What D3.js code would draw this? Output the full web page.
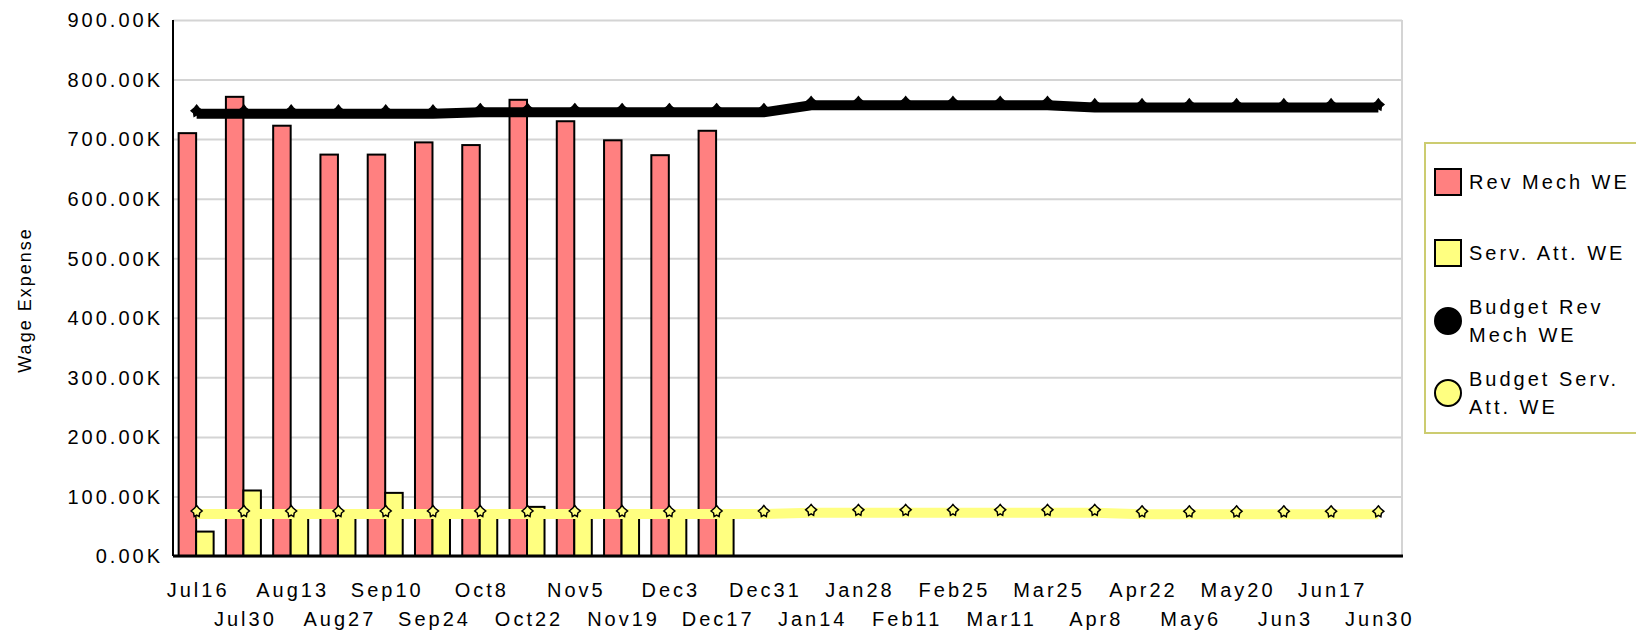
<!DOCTYPE html>
<html>
<head>
<meta charset="utf-8">
<script src="https://cdn.jsdelivr.net/npm/d3@7"></script>
<style>
  body { margin: 0; background: #fff; }
  text { font-family: "Liberation Sans", Arial, sans-serif; fill: #000; }
</style>
</head>
<body>
<div id="chart-div"></div>
<script>
// Pay periods (bi-weekly)
const periods = ["Jul16", "Jul30", "Aug13", "Aug27", "Sep10", "Sep24", "Oct8", "Oct22",
  "Nov5", "Nov19", "Dec3", "Dec17", "Dec31", "Jan14", "Jan28", "Feb11", "Feb25",
  "Mar11", "Mar25", "Apr8", "Apr22", "May6", "May20", "Jun3", "Jun17", "Jun30"];

// values in thousands
const revMechWE = [710, 771, 722.5, 674, 674, 694.5, 690, 766, 730, 698, 673, 714];
const servAttWE = [41, 110, 72, 70, 106, 71, 72, 82.5, 71, 70, 72, 71];
const budgetRevMechWE = [747.5, 747.5, 747.5, 747.5, 747.5, 747.5, 750, 750, 750, 750, 750,
  750, 750, 762, 762, 762, 762, 762, 762, 758, 758, 758, 758, 758, 758, 758];
const budgetServAttWE = [75.5, 75.5, 75.5, 75.5, 75.5, 75.5, 75.5, 75.5, 75.5, 75.5, 75.5,
  75.5, 75.5, 77.5, 77.5, 77.5, 77.5, 77.5, 77.5, 77.5, 75, 75, 75, 75, 75, 75];

const yTicks = [0, 100, 200, 300, 400, 500, 600, 700, 800, 900];

const legendItems = [
  { lines: ["Rev Mech WE"], type: "rect", color: "#ff8080" },
  { lines: ["Serv. Att. WE"], type: "rect", color: "#ffff80" },
  { lines: ["Budget Rev", "Mech WE"], type: "circle", color: "#000000" },
  { lines: ["Budget Serv.", "Att. WE"], type: "circle", color: "#ffff80" }
];

const SVG_W = 1636;
const SVG_H = 633;
const MARGIN = { left: 173, top: 20, right: 234, bottom: 77 };
const W = SVG_W - MARGIN.left - MARGIN.right;
const H = SVG_H - MARGIN.top - MARGIN.bottom;
const FONT = "20px";
const SPACING = "3px";

const svg = d3.select("#chart-div")
  .append("svg")
  .attr("width", SVG_W)
  .attr("height", SVG_H);

const g = svg.append("g")
  .attr("transform", "translate(" + MARGIN.left + "," + MARGIN.top + ")");

const x = d3.scaleBand().domain(periods).range([0, W]).padding(0);
const bw = x.bandwidth();
const x1 = d3.scaleBand().domain(["rev", "serv"])
  .range([bw / 2 - 18, bw / 2 + 17]).padding(0);
const y = d3.scaleLinear().domain([0, 900]).range([H, 0]);

// grid lines
g.append("g")
  .attr("class", "grid")
  .call(d3.axisLeft(y).tickValues(yTicks).tickSize(-W).tickFormat(""))
  .call(s => s.select(".domain").remove())
  .selectAll("line")
  .attr("stroke", "#d4d4d4")
  .attr("stroke-width", 2);

// right border
g.append("line")
  .attr("x1", W).attr("x2", W).attr("y1", 0).attr("y2", H)
  .attr("stroke", "#d4d4d4").attr("stroke-width", 2);

// bars
const barData = periods.slice(0, revMechWE.length).map((p, i) => ({ p: p, rev: revMechWE[i], serv: servAttWE[i] }));

const groups = g.selectAll(".bar-group")
  .data(barData)
  .enter()
  .append("g")
  .attr("class", "bar-group")
  .attr("transform", d => "translate(" + x(d.p) + ",0)");

groups.append("rect")
  .attr("x", x1("rev"))
  .attr("width", x1.bandwidth())
  .attr("y", d => y(d.rev))
  .attr("height", d => H - y(d.rev))
  .attr("fill", "#ff8080")
  .attr("stroke", "#000")
  .attr("stroke-width", 2);

groups.append("rect")
  .attr("x", x1("serv"))
  .attr("width", x1.bandwidth())
  .attr("y", d => y(d.serv))
  .attr("height", d => H - y(d.serv))
  .attr("fill", "#ffff80")
  .attr("stroke", "#000")
  .attr("stroke-width", 2);

// axes lines
g.append("line")
  .attr("x1", 0).attr("x2", 0).attr("y1", 0).attr("y2", H)
  .attr("stroke", "#000").attr("stroke-width", 2);
g.append("line")
  .attr("x1", 0).attr("x2", W + 1).attr("y1", H).attr("y2", H)
  .attr("stroke", "#000").attr("stroke-width", 3);

// budget lines (thick line sits a few px under the marker)
const cx = p => x(p) + bw / 2;
const LINE_OFF = 3;
// small rounded diamond marker
const markerPath = "M0,-5.5 L2,-3 L5.5,0 L3,2 L2.5,5.5 L0,4 L-2.5,5.5 L-3,2 L-5.5,0 L-2,-3 Z";

function drawBudget(values, color, markerFill) {
  const pts = periods.map((p, i) => [cx(p), y(values[i])]);
  g.append("path")
    .datum(pts)
    .attr("fill", "none")
    .attr("stroke", color)
    .attr("stroke-width", 10)
    .attr("d", d3.line().x(d => d[0]).y(d => d[1] + LINE_OFF));

  g.append("g")
    .selectAll("path")
    .data(pts)
    .enter()
    .append("path")
    .attr("transform", d => "translate(" + d[0] + "," + d[1] + ")")
    .attr("d", markerPath)
    .attr("fill", markerFill)
    .attr("stroke", "#000")
    .attr("stroke-width", 1.5);
}

drawBudget(budgetServAttWE, "#ffff80", "#ffff80");
drawBudget(budgetRevMechWE, "#000", "#000");

// y axis labels
g.append("g")
  .attr("class", "y-axis")
  .call(d3.axisLeft(y).tickValues(yTicks).tickSize(0)
    .tickFormat(d => d3.format(".2f")(d) + "K"))
  .call(s => s.select(".domain").remove())
  .selectAll("text")
  .attr("x", -10)
  .attr("dy", "0.34em")
  .style("font-size", FONT)
  .style("letter-spacing", SPACING);

// x axis labels, two alternating rows
g.append("g")
  .attr("class", "x-axis")
  .attr("transform", "translate(0," + H + ")")
  .call(d3.axisBottom(x).tickSize(0))
  .call(s => s.select(".domain").remove())
  .selectAll("text")
  .attr("y", (d, i) => i % 2 === 0 ? 41 : 70)
  .attr("dy", 0)
  .attr("dx", 1.5)
  .style("font-size", FONT)
  .style("letter-spacing", SPACING);

// y axis title
svg.append("text")
  .attr("transform", "translate(31,300) rotate(-90)")
  .style("text-anchor", "middle")
  .style("font-size", "18px")
  .style("letter-spacing", "2px")
  .text("Wage Expense");

// legend
const legend = svg.append("g").attr("class", "legend");
legend.append("rect")
  .attr("x", 1425).attr("y", 143)
  .attr("width", 260).attr("height", 290)
  .attr("fill", "#fff")
  .attr("stroke", "#cccc70")
  .attr("stroke-width", 2);

const legendRows = [182, 253, 321, 393];
legendItems.forEach((item, i) => {
  const cy = legendRows[i];
  if (item.type === "rect") {
    legend.append("rect")
      .attr("x", 1435).attr("y", cy - 13)
      .attr("width", 26).attr("height", 26)
      .attr("fill", item.color)
      .attr("stroke", "#000")
      .attr("stroke-width", 2);
  } else {
    legend.append("circle")
      .attr("cx", 1448).attr("cy", cy)
      .attr("r", 13)
      .attr("fill", item.color)
      .attr("stroke", "#000")
      .attr("stroke-width", 2);
  }
  const t = legend.append("text")
    .attr("x", 1469)
    .style("font-size", FONT)
    .style("letter-spacing", SPACING);
  if (item.lines.length === 1) {
    t.append("tspan").attr("x", 1469).attr("y", cy + 7).text(item.lines[0]);
  } else {
    t.append("tspan").attr("x", 1469).attr("y", cy - 7).text(item.lines[0]);
    t.append("tspan").attr("x", 1469).attr("y", cy + 21).text(item.lines[1]);
  }
});
</script>
</body>
</html>
